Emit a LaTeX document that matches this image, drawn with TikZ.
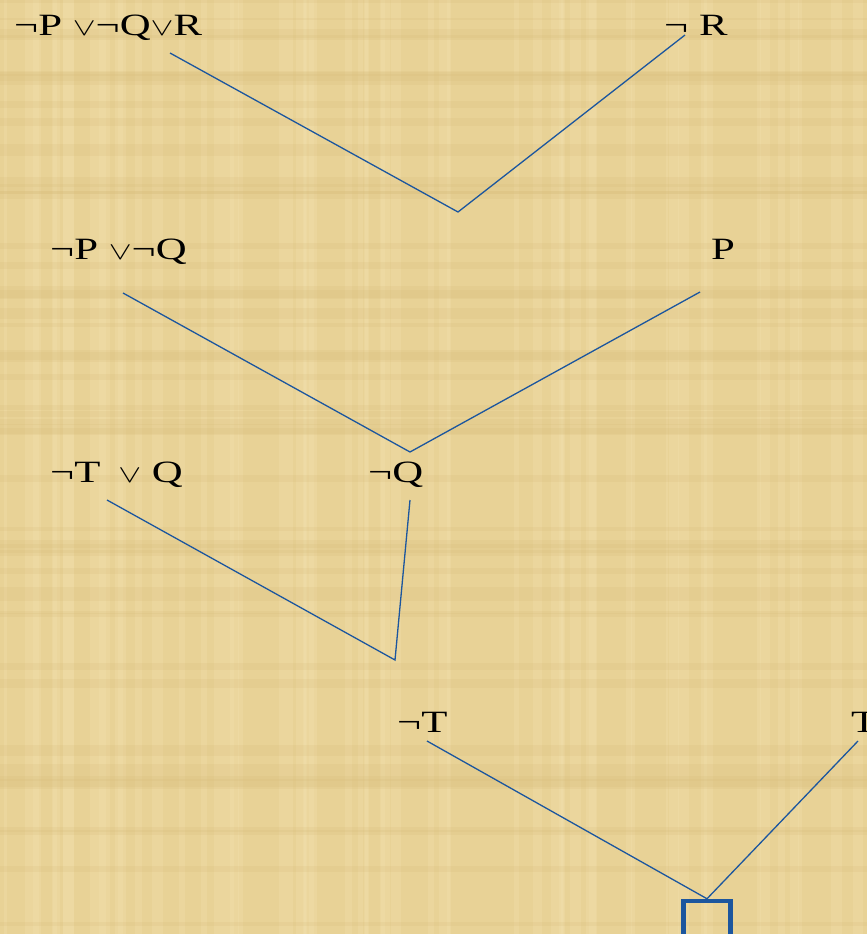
\documentclass[tikz,border=0pt]{standalone}
\usepackage{fontspec}
\setmainfont{Liberation Serif}
\definecolor{papyrus}{RGB}{232,210,150}
\definecolor{papyrusdark}{RGB}{214,186,120}
\definecolor{papyruslight}{RGB}{244,228,178}
\definecolor{lineblue}{RGB}{28,86,158}
\newcommand{\orsym}{\ensuremath{\vee}}
\newcommand{\wide}[1]{\scalebox{1.38}[1]{#1}}
\begin{document}
\begin{tikzpicture}[x=1pt,y=-1pt,
  lbl/.style={anchor=base west,inner sep=0pt,font=\fontsize{31}{36}\selectfont},
  edge/.style={draw=lineblue,line width=1.3pt},
  emptybox/.style={draw=lineblue,line width=4.5pt,minimum width=47pt,minimum height=40pt,inner sep=0pt}]
\fill[papyrus] (0,0) rectangle (867,934);
\useasboundingbox (0,0) rectangle (867,934);
% faint papyrus fibres
\pgfmathsetseed{7}
\foreach \i in {1,...,60}{
  \pgfmathsetmacro{\xx}{rnd*867}
  \pgfmathsetmacro{\ww}{2+rnd*10}
  \fill[papyruslight,opacity=0.25] (\xx,0) rectangle ++(\ww,934);
}
\foreach \i in {1,...,50}{
  \pgfmathsetmacro{\yy}{rnd*934}
  \pgfmathsetmacro{\hh}{2+rnd*10}
  \fill[papyrusdark,opacity=0.18] (0,\yy) rectangle ++(867,\hh);
}
% labels
\node[lbl] (c1) at (14,36) {\wide{¬P \orsym¬Q\orsym R}};
\node[lbl] (c2) at (664,36) {\wide{¬ R}};
\node[lbl] (c3) at (50,259) {\wide{¬P \orsym¬Q}};
\node[lbl] (c4) at (711,259) {\wide{P}};
\node[lbl] (c5) at (50,482) {\wide{¬T \,\orsym\ Q}};
\node[lbl] (c6) at (368,482) {\wide{¬Q}};
\node[lbl] (c7) at (397,732) {\wide{¬T}};
\node[lbl] (c8) at (851,732) {\wide{T}};
\node[emptybox] (box) at (707,921) {};
% connector ends
\coordinate (a1) at (170,53);
\coordinate (a2) at (685,35);
\coordinate (m1) at (458,212);
\coordinate (b1) at (123,293);
\coordinate (b2) at (700,292);
\coordinate (m2) at (410,452);
\coordinate (d1) at (107,500);
\coordinate (d2) at (410,500);
\coordinate (m3) at (395,660);
\coordinate (e1) at (427,741);
\coordinate (e2) at (858,741);
\draw[edge] (a1) -- (m1) -- (a2);
\draw[edge] (b1) -- (m2) -- (b2);
\draw[edge] (d1) -- (m3) -- (d2);
\draw[edge] (e1) -- (box.north) -- (e2);
\end{tikzpicture}
\end{document}
